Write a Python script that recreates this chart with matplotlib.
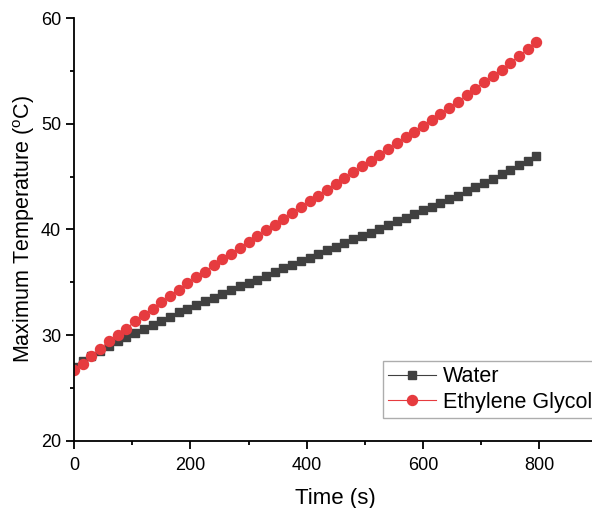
import matplotlib
matplotlib.use("Agg")
import numpy as np
from matplotlib import pyplot as plt
from matplotlib.ticker import MultipleLocator

plt.rcParams["font.family"] = ["Liberation Sans", "DejaVu Sans"]
plt.rcParams["mathtext.fontset"] = "custom"
plt.rcParams["mathtext.rm"] = "Liberation Sans"

# sampled every 15 s, 0..795 s
time_s = list(range(0, 800, 15))

water = [
    27.0, 27.5, 28.0, 28.45, 28.95, 29.4, 29.8, 30.2, 30.55, 30.95,
    31.35, 31.75, 32.15, 32.5, 32.85, 33.2, 33.55, 33.9, 34.25, 34.6,
    34.9, 35.25, 35.6, 35.95, 36.3, 36.65, 37.0, 37.3, 37.65, 38.0,
    38.35, 38.7, 39.05, 39.4, 39.7, 40.05, 40.4, 40.75, 41.1, 41.45,
    41.8, 42.15, 42.5, 42.85, 43.2, 43.6, 44.0, 44.4, 44.8, 45.2,
    45.6, 46.05, 46.5, 46.95,
]

glycol = [
    26.7, 27.3, 28.0, 28.7, 29.4, 30.0, 30.6, 31.3, 31.9, 32.5,
    33.1, 33.7, 34.3, 34.9, 35.45, 36.0, 36.6, 37.15, 37.7, 38.25,
    38.8, 39.35, 39.9, 40.45, 41.0, 41.55, 42.1, 42.65, 43.2, 43.75,
    44.3, 44.85, 45.4, 45.95, 46.5, 47.05, 47.6, 48.15, 48.7, 49.25,
    49.8, 50.35, 50.9, 51.5, 52.1, 52.7, 53.3, 53.9, 54.5, 55.1,
    55.75, 56.4, 57.05, 57.7,
]

fig = plt.figure(figsize=(5.92, 5.08), dpi=100)
# axes run past the right edge, like the cropped original
ax = fig.add_axes([0.1250, 0.1325, 0.8843, 0.8320])

ax.plot(time_s, water, color="#404040", marker="s", markersize=6.4,
        linewidth=0.8, label="Water")
ax.plot(time_s, glycol, color="#e63b3f", marker="o", markersize=7.2,
        linewidth=0.8, label="Ethylene Glycol")

ax.set_xlim(0, 900)
ax.set_ylim(20, 60)
ax.xaxis.set_major_locator(MultipleLocator(200))
ax.xaxis.set_minor_locator(MultipleLocator(100))
ax.yaxis.set_major_locator(MultipleLocator(10))
ax.yaxis.set_minor_locator(MultipleLocator(5))

for side in ("top", "right"):
    ax.spines[side].set_visible(False)
for side in ("left", "bottom"):
    ax.spines[side].set_linewidth(1.3)

ax.tick_params(which="major", direction="out", length=5.8, width=1.3,
               labelsize=13)
ax.tick_params(which="minor", direction="out", length=3, width=1.3)
ax.tick_params(axis="x", which="major", pad=6)
ax.tick_params(axis="y", which="major", pad=3.5)

ax.set_xlabel("Time (s)", fontsize=16, labelpad=10)
ax.set_ylabel(r"Maximum Temperature ($^{\mathrm{o}}$C)", fontsize=15.5, labelpad=3)

leg = ax.legend(loc="upper left", bbox_to_anchor=(383 / 592, 1 - 361 / 508),
                bbox_transform=fig.transFigure, fontsize=15.5, frameon=True,
                fancybox=False, borderaxespad=0, borderpad=0.25,
                handlelength=2.2, handletextpad=0.35, labelspacing=0.2)
leg.get_frame().set_edgecolor("#999999")
leg.get_frame().set_linewidth(1.0)

fig.savefig("out.png", dpi=100)
